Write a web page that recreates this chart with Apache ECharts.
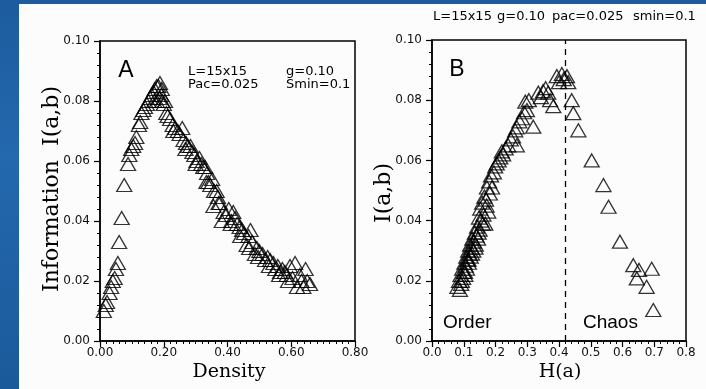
<!DOCTYPE html>
<html>
<head>
<meta charset="utf-8">
<script src="https://cdn.jsdelivr.net/npm/echarts@6/dist/echarts.min.js"></script>
<style>
html,body{margin:0;padding:0;width:706px;height:389px;overflow:hidden;}
body{background:linear-gradient(180deg,#1c5c9e 0%,#2468ad 40%,#1a5a9b 100%);position:relative;}
#panel{position:absolute;left:19px;top:4px;width:687px;height:385px;background:#fcfcfc;}
#chart{position:absolute;left:0;top:0;width:706px;height:389px;}
</style>
</head>
<body>
<div id="panel"></div>
<div id="chart"></div>
<script>
// ---- Panel A: Density vs Information I(a,b)
const densityA = [0.012,0.018,0.022,0.030,0.035,0.040,0.046,0.050,0.056,0.060,0.068,0.076,0.088,0.092,0.098,0.104,0.110,0.114,0.122,0.126,0.130,0.136,0.141,0.147,0.152,0.157,0.162,0.168,0.172,0.178,0.183,0.188,
  0.170,0.178,0.186,0.192,0.196,0.200,0.204,0.194,
  0.208,0.212,0.220,0.228,0.236,0.244,0.250,0.258,0.262,0.270,0.276,0.284,0.290,0.296,0.303,0.312,0.318,0.324,0.330,0.336,0.340,0.346,0.352,0.358,0.356,0.366,0.370,0.376,0.382,0.388,0.396,0.404,0.412,0.418,0.424,0.430,0.438,0.446,0.452,0.460,0.466,0.472,0.478,0.486,0.492,0.500,0.510,0.518,0.526,0.534,0.544,0.550,0.558,0.565,0.572,0.580,0.586,0.596,0.604,0.612,0.618,0.627,0.632,0.638,0.645,0.650,0.659,
  0.230,0.268,0.300,0.334,0.372,0.410,0.440,0.468,0.496,0.530,0.562,0.590];
const infoA = [0.010,0.012,0.013,0.016,0.018,0.020,0.021,0.024,0.026,0.033,0.041,0.052,0.059,0.062,0.064,0.065,0.066,0.068,0.072,0.073,0.076,0.077,0.078,0.079,0.080,0.081,0.082,0.083,0.084,0.085,0.085,0.086,
  0.080,0.080,0.081,0.082,0.080,0.079,0.080,0.084,
  0.076,0.075,0.074,0.072,0.071,0.070,0.069,0.071,0.067,0.066,0.065,0.065,0.063,0.062,0.060,0.061,0.059,0.058,0.058,0.056,0.053,0.052,0.054,0.050,0.045,0.050,0.048,0.046,0.040,0.043,0.042,0.044,0.040,0.043,0.041,0.039,0.038,0.037,0.036,0.032,0.035,0.037,0.033,0.029,0.031,0.030,0.029,0.027,0.028,0.027,0.026,0.024,0.025,0.023,0.024,0.023,0.022,0.025,0.021,0.026,0.018,0.022,0.020,0.018,0.024,0.020,0.019,
  0.070,0.064,0.059,0.053,0.046,0.039,0.035,0.031,0.028,0.025,0.022,0.020];

// ---- Panel B: H(a) vs I(a,b)
const entropyB = [0.080,0.085,0.088,0.090,0.092,0.095,0.098,0.100,0.102,0.105,0.106,0.108,0.110,0.112,0.114,0.116,0.118,0.120,0.122,0.125,0.127,0.130,0.132,0.135,0.138,0.140,0.142,0.145,0.148,0.150,0.152,0.155,0.158,0.162,0.165,0.168,0.172,0.177,0.173,0.180,0.189,0.186,0.195,0.199,0.204,0.210,0.215,0.220,0.224,0.232,0.240,0.248,0.255,0.262,0.267,0.267,0.275,0.283,0.290,0.294,0.299,0.305,0.319,0.335,0.343,0.350,0.358,0.366,0.372,0.382,0.393,0.400,0.409,0.415,0.425,0.429,
  0.094,0.104,0.115,0.126,0.137,0.147,0.160,0.170,0.182,
  0.440,0.445,0.461,0.503,0.540,0.556,0.592,0.634,0.645,0.652,0.676,0.692,0.697];
const infoB = [0.018,0.020,0.017,0.022,0.019,0.024,0.021,0.023,0.026,0.022,0.025,0.028,0.024,0.027,0.030,0.026,0.029,0.032,0.028,0.031,0.034,0.030,0.033,0.036,0.032,0.035,0.038,0.034,0.041,0.037,0.044,0.040,0.046,0.042,0.048,0.039,0.045,0.043,0.051,0.053,0.051,0.055,0.056,0.058,0.059,0.060,0.061,0.063,0.062,0.064,0.065,0.067,0.068,0.070,0.071,0.065,0.073,0.074,0.076,0.0795,0.0767,0.080,0.0712,0.0825,0.081,0.083,0.084,0.0825,0.080,0.078,0.088,0.086,0.0887,0.087,0.088,0.086,
  0.020,0.023,0.027,0.029,0.031,0.036,0.039,0.047,0.049,
  0.080,0.0757,0.070,0.060,0.0518,0.0446,0.033,0.0252,0.0208,0.0236,0.018,0.024,0.0103];

const borderLine = 0.423; // Order / Chaos boundary

const yTicks = [0.00,0.02,0.04,0.06,0.08,0.10];
const xTicksA = [0.00,0.20,0.40,0.60,0.80];
const xTicksB = [0.0,0.1,0.2,0.3,0.4,0.5,0.6,0.7,0.8];

const zip = (a,b) => a.map((v,i)=>[v,b[i]]);
const tickFont = {fontFamily:'DejaVu Sans',fontSize:12,color:'#111'};
function axisBase(extra){
  return Object.assign({
    axisLine:{onZero:false,lineStyle:{color:'#000',width:1.5}},
    axisTick:{show:true,inside:false,length:6,lineStyle:{color:'#000',width:1.2}},
    minorTick:{show:true,length:3,lineStyle:{color:'#000',width:1}},
    splitLine:{show:false},
    minorSplitLine:{show:false}
  },extra);
}
const sym = {symbol:'triangle',symbolSize:[15,13],
  itemStyle:{color:'rgba(0,0,0,0)',borderColor:'#000',borderWidth:1.3}};

const chart = echarts.init(document.getElementById('chart'),null,{renderer:'canvas'});
chart.setOption({
  animation:false,
  backgroundColor:'transparent',
  grid:[
    {left:100,top:41,width:255,height:300,show:true,borderColor:'#000',borderWidth:1.5,backgroundColor:'transparent'},
    {left:432,top:40,width:254,height:301,show:true,borderColor:'#000',borderWidth:1.5,backgroundColor:'transparent'}
  ],
  xAxis:[
    axisBase({gridIndex:0,type:'value',min:xTicksA[0],max:xTicksA[xTicksA.length-1],interval:0.2,
      minorTick:{show:true,splitNumber:10,length:3,lineStyle:{color:'#000',width:1}},
      axisLabel:Object.assign({margin:6,formatter:v=>v.toFixed(2)},tickFont)}),
    axisBase({gridIndex:1,type:'value',min:xTicksB[0],max:xTicksB[xTicksB.length-1],interval:0.1,
      minorTick:{show:true,splitNumber:5,length:3,lineStyle:{color:'#000',width:1}},
      axisLabel:Object.assign({margin:6,formatter:v=>v.toFixed(1)},tickFont)})
  ],
  yAxis:[
    axisBase({gridIndex:0,type:'value',min:yTicks[0],max:yTicks[yTicks.length-1],interval:0.02,
      minorTick:{show:true,splitNumber:5,length:3,lineStyle:{color:'#000',width:1}},
      axisLabel:Object.assign({margin:10,formatter:v=>v.toFixed(2)},tickFont)}),
    axisBase({gridIndex:1,type:'value',min:yTicks[0],max:yTicks[yTicks.length-1],interval:0.02,
      minorTick:{show:true,splitNumber:5,length:3,lineStyle:{color:'#000',width:1}},
      axisLabel:Object.assign({margin:10,formatter:v=>v.toFixed(2)},tickFont)})
  ],
  series:[
    Object.assign({type:'scatter',xAxisIndex:0,yAxisIndex:0,data:zip(densityA,infoA),silent:true},sym),
    Object.assign({type:'scatter',xAxisIndex:1,yAxisIndex:1,data:zip(entropyB,infoB),silent:true,
      markLine:{silent:true,symbol:'none',label:{show:false},
        lineStyle:{color:'#000',type:[6,5],width:1.3},
        data:[{xAxis:borderLine}]}},sym)
  ],
  graphic:[
    {type:'text',x:126,y:71,style:{text:'A',font:'23px "Liberation Sans"',fill:'#000',align:'center',verticalAlign:'middle',textAlign:'center',textVerticalAlign:'middle'}},
    {type:'text',x:188,y:72,style:{text:'L=15x15',font:'13px "DejaVu Sans"',fill:'#000',verticalAlign:'middle',textVerticalAlign:'middle'}},
    {type:'text',x:286,y:72,style:{text:'g=0.10',font:'13px "DejaVu Sans"',fill:'#000',verticalAlign:'middle',textVerticalAlign:'middle'}},
    {type:'text',x:188,y:85,style:{text:'Pac=0.025',font:'13px "DejaVu Sans"',fill:'#000',verticalAlign:'middle',textVerticalAlign:'middle'}},
    {type:'text',x:286,y:85,style:{text:'Smin=0.1',font:'13px "DejaVu Sans"',fill:'#000',verticalAlign:'middle',textVerticalAlign:'middle'}},
    {type:'text',x:457,y:70,style:{text:'B',font:'23px "Liberation Sans"',fill:'#000',align:'center',verticalAlign:'middle',textAlign:'center',textVerticalAlign:'middle'}},
    {type:'text',x:433,y:17,style:{text:'L=15x15',font:'13px "DejaVu Sans"',fill:'#000',verticalAlign:'middle',textVerticalAlign:'middle'}},
    {type:'text',x:497,y:17,style:{text:'g=0.10',font:'13px "DejaVu Sans"',fill:'#000',verticalAlign:'middle',textVerticalAlign:'middle'}},
    {type:'text',x:552,y:17,style:{text:'pac=0.025',font:'13px "DejaVu Sans"',fill:'#000',verticalAlign:'middle',textVerticalAlign:'middle'}},
    {type:'text',x:633,y:17,style:{text:'smin=0.1',font:'13px "DejaVu Sans"',fill:'#000',verticalAlign:'middle',textVerticalAlign:'middle'}},
    {type:'text',x:443,y:323,style:{text:'Order',font:'19px "Liberation Sans"',fill:'#000',verticalAlign:'middle',textVerticalAlign:'middle'}},
    {type:'text',x:583,y:323,style:{text:'Chaos',font:'19px "Liberation Sans"',fill:'#000',verticalAlign:'middle',textVerticalAlign:'middle'}},
    {type:'text',x:229,y:372,style:{text:'Density',font:'19px "DejaVu Serif"',fill:'#000',align:'center',verticalAlign:'middle',textAlign:'center',textVerticalAlign:'middle'}},
    {type:'text',x:560,y:372,style:{text:'H(a)',font:'19px "DejaVu Serif"',fill:'#000',align:'center',verticalAlign:'middle',textAlign:'center',textVerticalAlign:'middle'}},
    {type:'text',x:52,y:189,rotation:Math.PI/2,style:{text:'Information  I(a,b)',font:'22px "DejaVu Serif"',fill:'#000',align:'center',verticalAlign:'middle',textAlign:'center',textVerticalAlign:'middle'}},
    {type:'text',x:384,y:193,rotation:Math.PI/2,style:{text:'I(a,b)',font:'22px "DejaVu Serif"',fill:'#000',align:'center',verticalAlign:'middle',textAlign:'center',textVerticalAlign:'middle'}}
  ]
});
</script>
</body>
</html>
